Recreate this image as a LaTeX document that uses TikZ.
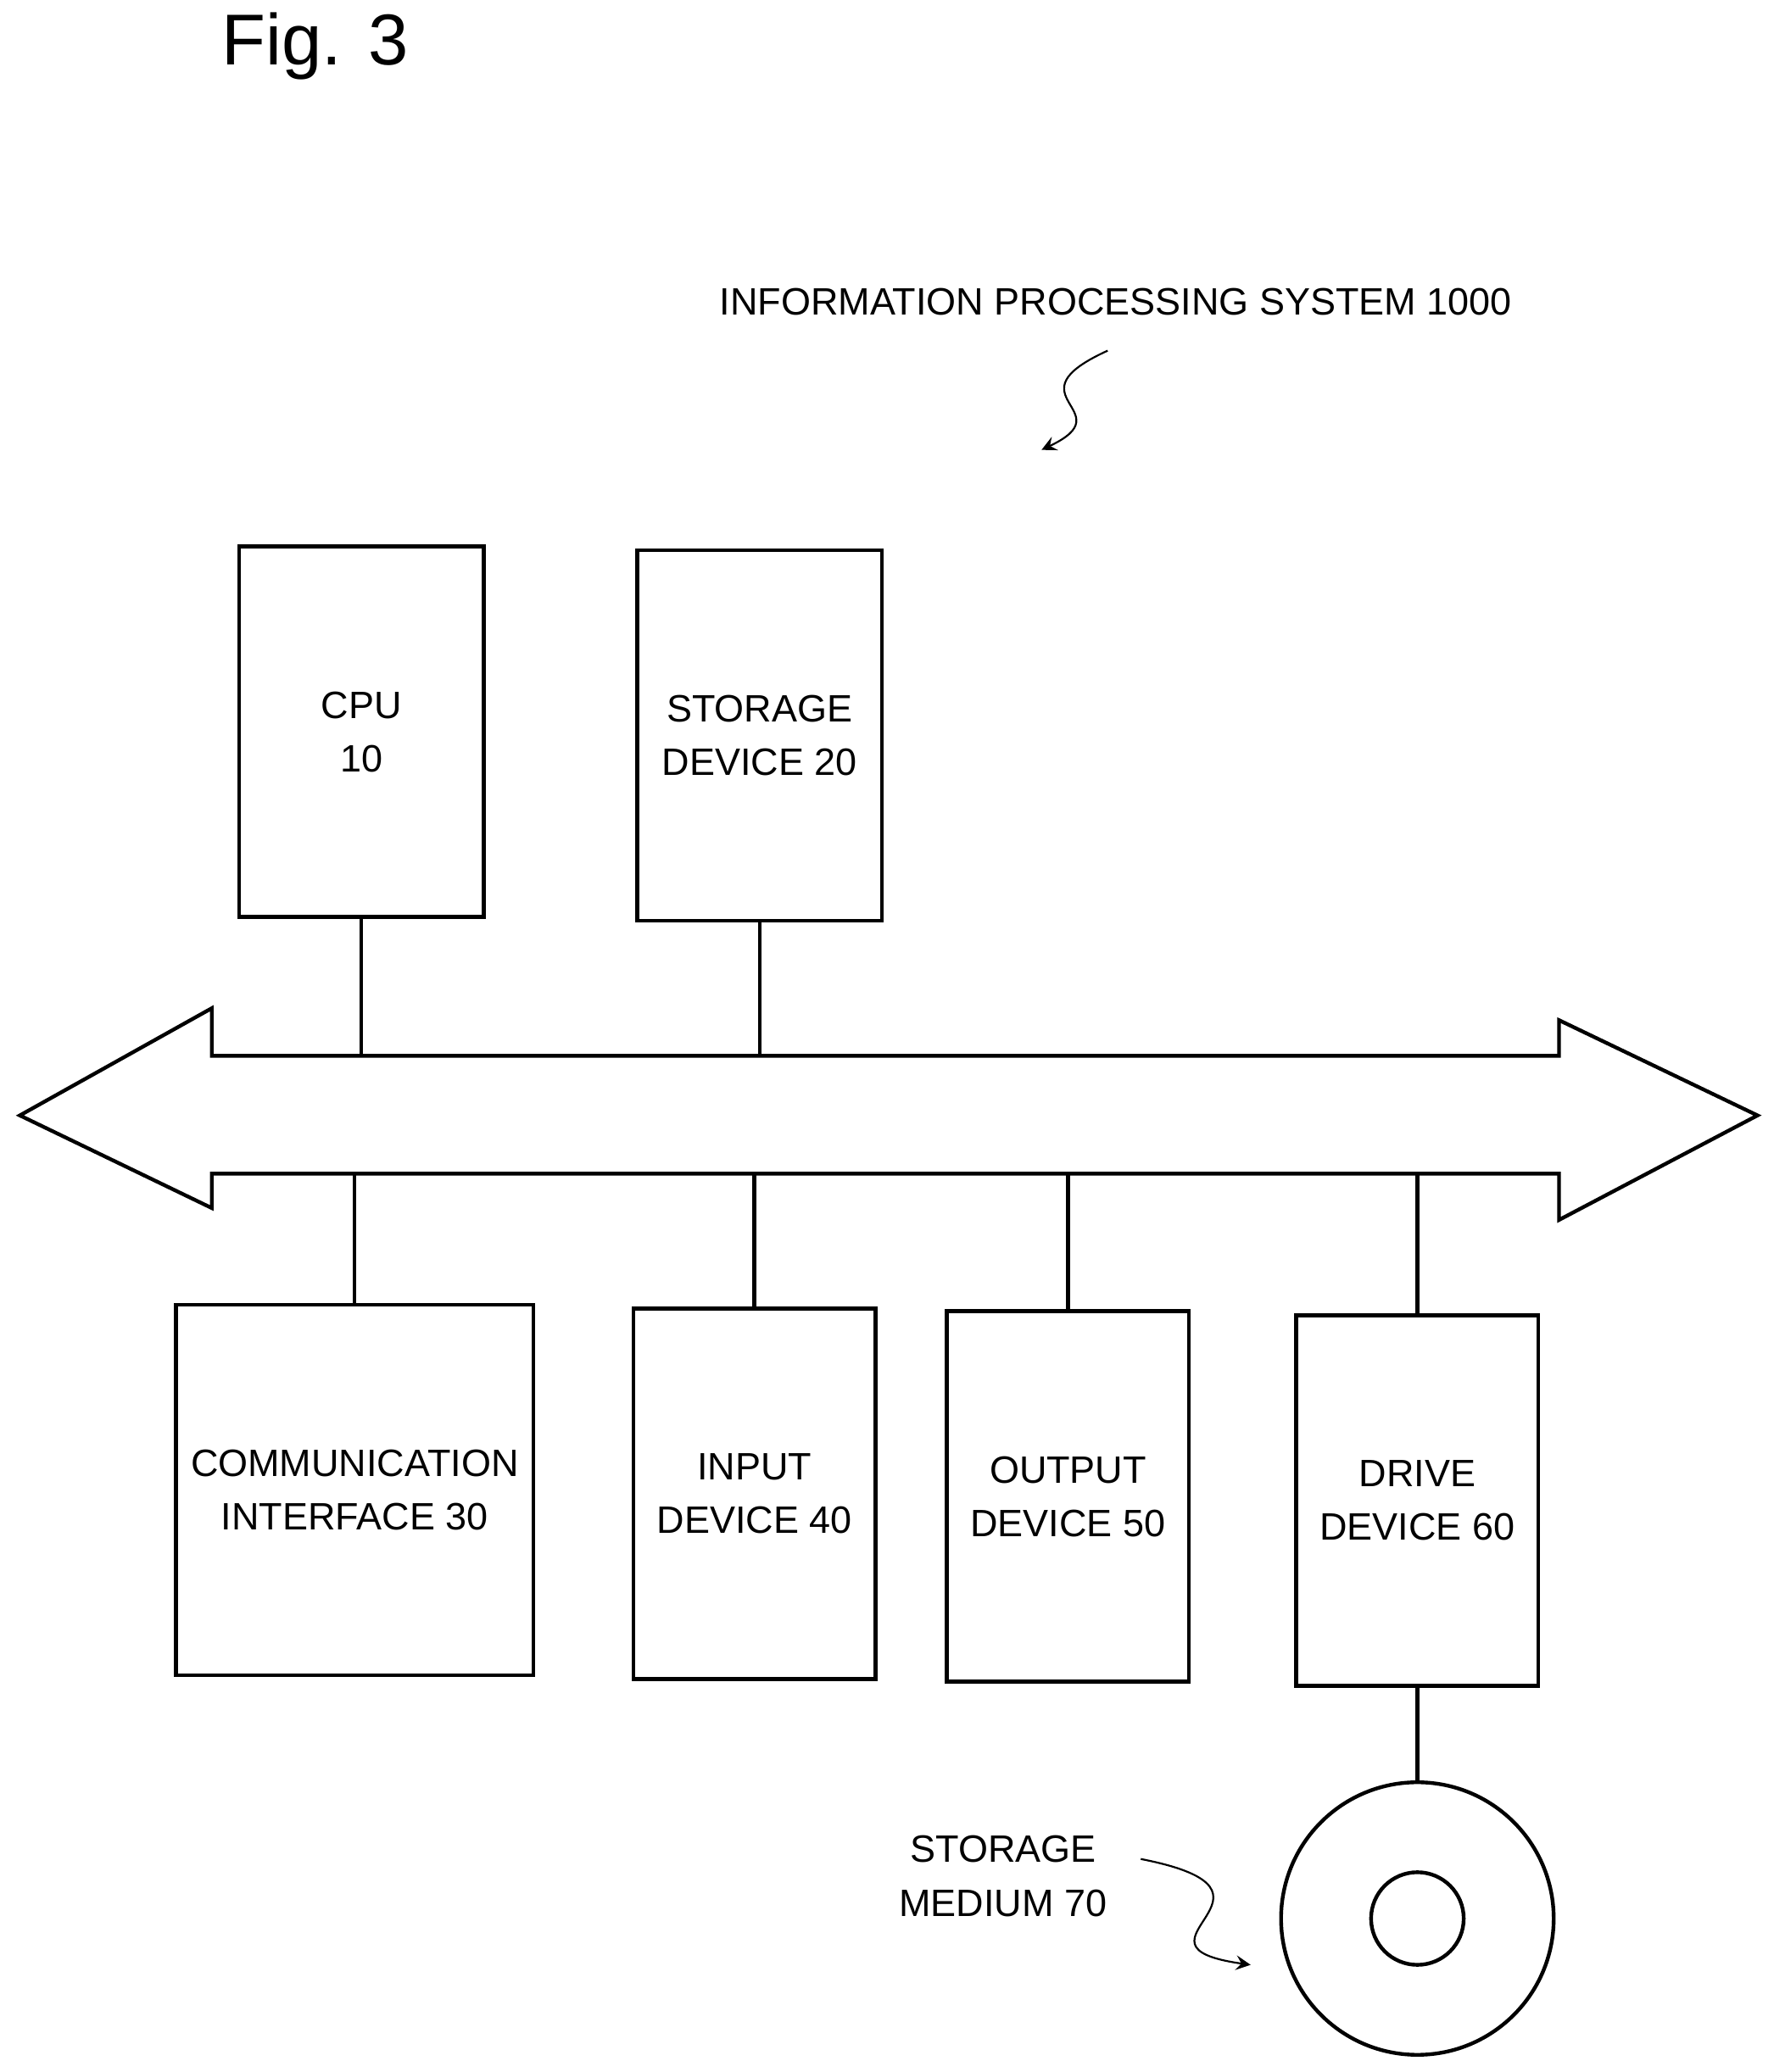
\documentclass[tikz,border=0pt]{standalone}
\usepackage{fontspec}
\setmainfont{Liberation Sans}
\usetikzlibrary{positioning}
\usetikzlibrary{calc}

\begin{document}
\begin{tikzpicture}[
	box/.style={draw,thick,minimum width=1.83cm,minimum height=2.8cm,align=center,
		inner xsep=1pt,font=\fontsize{8.2}{11.5}\selectfont},
	label text/.style={align=center,font=\fontsize{8.2}{11.5}\selectfont},
	wire/.style={thick},
	wiggle/.style={thin,->,>=stealth}]

\useasboundingbox (0,0) rectangle (13.4,-15.66);

% Title
\node (fig) at (2.38,-0.35) {\fontsize{15.5}{18}\selectfont Fig. 3};
\node[label text] (sys) at (8.43,-2.28) {INFORMATION PROCESSING SYSTEM 1000};
\draw[wiggle] (8.37,-2.65) .. controls (7.6,-3.0) and (8.5,-3.1) .. (7.87,-3.4);

% Upper units
\node[box,minimum width=1.85cm] (cpu) at (2.73,-5.53) {CPU\\10};
\node[box,minimum width=1.85cm] (stor) at (5.74,-5.56) {STORAGE\\DEVICE 20};

% Bus
\coordinate (busTop) at (0,-7.98);
\coordinate (busBot) at (0,-8.87);
\draw[thick] (1.60,-7.98) -- (1.60,-7.62) -- (0.15,-8.43) -- (1.60,-9.13)
	-- (1.60,-8.87) -- (11.78,-8.87) -- (11.78,-9.22) -- (13.28,-8.43)
	-- (11.78,-7.71) -- (11.78,-7.98) -- cycle;

% Lower units
\node[box,minimum width=2.7cm] (comm) at (2.68,-11.26) {COMMUNICATION\\INTERFACE 30};
\node[box] (inp) at (5.70,-11.29) {INPUT\\DEVICE 40};
\node[box] (outp) at (8.07,-11.31) {OUTPUT\\DEVICE 50};
\node[box] (drv) at (10.71,-11.34) {DRIVE\\DEVICE 60};

% Connections to bus
\draw[wire] (cpu.south) -- (cpu.south |- busTop);
\draw[wire] (stor.south) -- (stor.south |- busTop);
\foreach \n in {comm,inp,outp,drv}
	\draw[wire] (\n.north) -- (\n.north |- busBot);

% Storage medium
\node[draw,thick,circle,minimum size=2.06cm] (disk) at (10.71,-14.50) {};
\node[draw,thick,circle,minimum size=0.7cm] (hole) at (disk.center) {};
\draw[wire] (drv.south) -- (disk.north);
\node[label text] (med) at (7.58,-14.18) {STORAGE\\MEDIUM 70};
\draw[wiggle] (8.62,-14.05) .. controls (9.9,-14.3) and (8.4,-14.7) .. (9.45,-14.85);

\end{tikzpicture}
\end{document}
